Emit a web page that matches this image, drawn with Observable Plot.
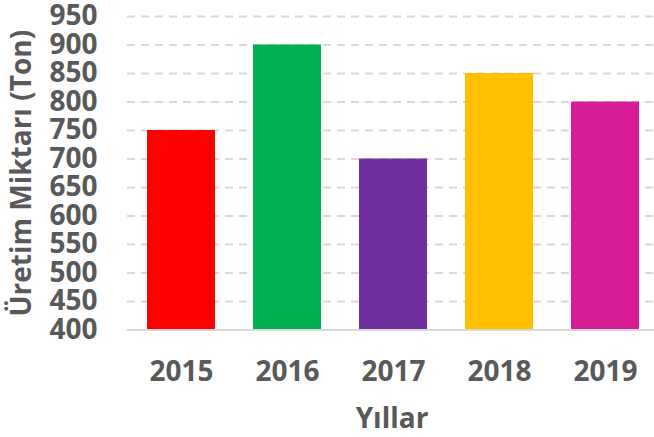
<!DOCTYPE html>
<html>
<head>
<meta charset="utf-8">
<script src="https://cdn.jsdelivr.net/npm/d3@7"></script>
<script src="https://cdn.jsdelivr.net/npm/@observablehq/plot@0.6"></script>
<style>
  html, body { margin: 0; padding: 0; background: #fff; }
  #chart svg { display: block; }
</style>
</head>
<body>
<div id="chart"></div>
<script>
const years = ["2015", "2016", "2017", "2018", "2019"];
const production = [750, 900, 700, 850, 800];
const barColors = ["#FF0000", "#00B050", "#7030A0", "#FFC000", "#D61D96"];
const yTicks = [400, 450, 500, 550, 600, 650, 700, 750, 800, 850, 900, 950];
const xTitle = "Yıllar";
const yTitle = "Üretim Miktarı (Ton)";

const data = years.map((y, i) => ({year: y, value: production[i], color: barColors[i]}));
const base = yTicks[0];
const textColor = "#595959";
const gridColor = "#D9D9D9";

const chart = Plot.plot({
  width: 654,
  height: 437,
  marginTop: 16,
  marginBottom: 107.5,
  marginLeft: 127,
  marginRight: 0,
  style: {color: textColor, fontFamily: "'Open Sans', sans-serif", fontWeight: "bold", fontSize: "28px", background: "#fff"},
  x: {domain: years, range: [127, 658], paddingInner: 0.36, paddingOuter: 0.18, label: null},
  y: {domain: [yTicks[0], yTicks[yTicks.length - 1]], label: null},
  marks: [
    Plot.ruleY(yTicks.slice(1), {stroke: gridColor, strokeWidth: 2, strokeDasharray: "8,6"}),
    Plot.barY(data, {x: "year", y1: base, y2: "value", fill: "color"}),
    Plot.ruleY([base], {stroke: gridColor, strokeWidth: 2}),
    Plot.axisY({ticks: yTicks, tickSize: 0, tickPadding: 30, label: null, fill: textColor}),
    Plot.axisX({tickSize: 0, tickPadding: 31.5, label: null, fill: textColor}),
    Plot.text([xTitle], {frameAnchor: "bottom", lineAnchor: "middle", textAnchor: "middle", dx: 1, dy: 89.5, fill: textColor, fontSize: 28, fontWeight: "bold"}),
    Plot.text([yTitle], {frameAnchor: "left", rotate: -90, textAnchor: "middle", lineAnchor: "middle", dx: -105, dy: 0, fill: textColor, fontSize: 28, fontWeight: "bold"})
  ]
});
document.getElementById("chart").appendChild(chart);
</script>
</body>
</html>
